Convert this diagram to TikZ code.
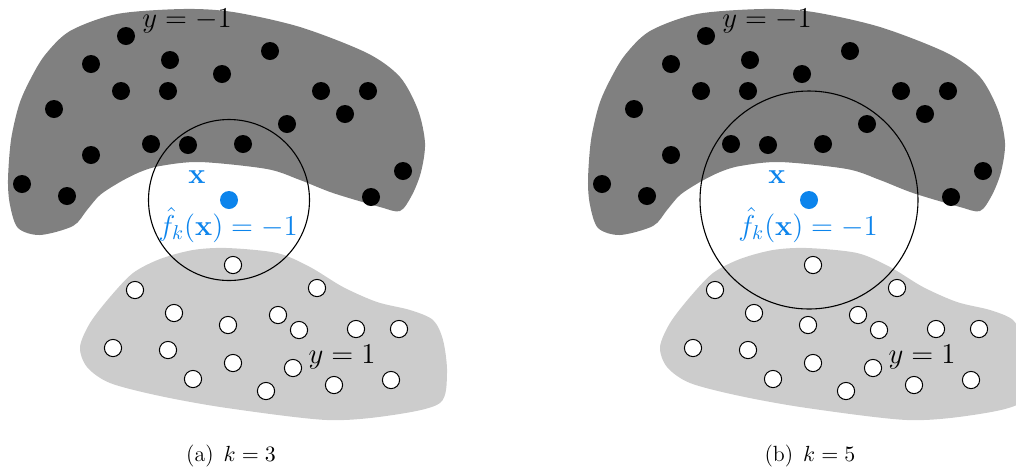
\documentclass[tikz,border=0pt]{standalone}
\usepackage{amsmath}
\definecolor{queryblue}{RGB}{12,132,236}
\definecolor{negregion}{gray}{0.5}
\definecolor{posregion}{gray}{0.8}

% One panel of the k-NN illustration.
% #1: node-name prefix, #2: horizontal offset, #3: radius of the neighbourhood ball
\newcommand\knnpanel[3]{%
  \begin{scope}[shift={(#2,0)}]
    % class y = -1 (dark region)
    \fill[negregion] plot[smooth cycle,tension=0.5] coordinates {
      (73,226) (40,235) (18,228) (10,205) (8,180) (11,140) (19,105) (30,80)
      (45,55) (70,31) (117,14) (183,9) (233,12) (300,27) (367,53) (400,77)
      (418,110) (425,143) (421,172) (412,195) (400,211) (380,207) (333,193)
      (300,180) (267,169) (200,162) (160,166) (140,172) (120,182) (100,195)
      (87,210)};
    % class y = 1 (light region)
    \fill[posregion] plot[smooth cycle,tension=0.5] coordinates {
      (133,273) (160,259) (193,250) (227,248) (277,253) (310,267) (343,287)
      (377,302) (410,310) (433,320) (443,340) (447,373) (440,403) (393,415)
      (327,420) (227,408) (160,396) (110,383) (87,367) (80,347) (90,323)
      (110,297)};
    % neighbourhood of the query point
    \draw[ball] (229,200) circle[radius=#3];
    % training points with label -1
    \foreach \p [count=\i] in {(126,36),(91,64),(170,60),(270,51),(222,74),
        (121,91),(168,91),(54,109),(321,91),(368,91),(345,114),(287,124),
        (151,144),(188,145),(243,144),(91,155),(22,184),(67,196),(403,171),(371,197)}
      \node[negdot] (#1n\i) at \p {};
    % training points with label 1
    \foreach \p [count=\i] in {(233,265),(135,290),(317,288),(174,313),(228,325),
        (278,315),(299,330),(356,329),(399,329),(113,348),(168,350),(233,363),
        (293,368),(193,379),(266,391),(334,385),(391,380)}
      \node[posdot] (#1p\i) at \p {};
    % query point and its predicted label
    \node[query] (#1q) at (229,200) {};
    \node[lbl,text=queryblue] (#1qx) at (197,183) {$\mathbf{x}$};
    \node[lbl,text=queryblue] (#1qf) at (228,235) {$\hat{f}_k(\mathbf{x})=-1$};
    % class labels
    \node[lbl] (#1ln) at (187,27) {$y=-1$};
    \node[lbl] (#1lp) at (342,363) {$y=1$};
  \end{scope}}

\begin{document}
\begin{tikzpicture}[x=0.5pt,y=-0.5pt,
    negdot/.style={circle,fill=black,inner sep=0pt,minimum size=9pt},
    posdot/.style={circle,draw=black,fill=white,line width=0.5pt,inner sep=0pt,minimum size=8.6pt},
    query/.style={circle,fill=queryblue,inner sep=0pt,minimum size=9pt},
    ball/.style={draw=black,line width=0.55pt},
    lbl/.style={inner sep=0pt,anchor=base,font=\fontsize{14}{16}\selectfont},
    subcap/.style={inner sep=0pt,anchor=base,font=\fontsize{11}{13}\selectfont}]
  \useasboundingbox (0,0) rectangle (1016,468);
  \knnpanel{a}{0}{80.5}
  \knnpanel{b}{580}{109}
  \node[subcap] (capa) at (231,461) {(a)\hspace{0.45em}$k=3$};
  \node[subcap] (capb) at (810,461) {(b)\hspace{0.45em}$k=5$};
\end{tikzpicture}
\end{document}
